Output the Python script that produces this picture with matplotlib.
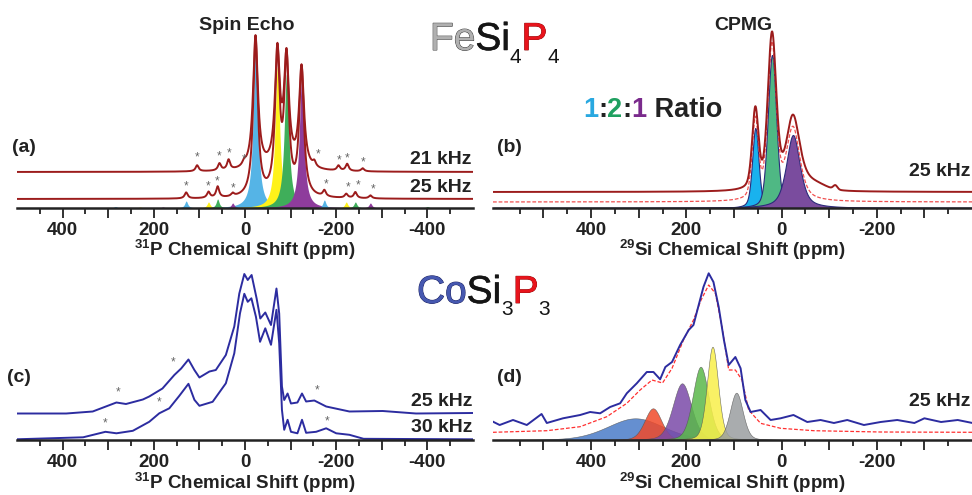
import numpy as np
import matplotlib
matplotlib.use('Agg')
import matplotlib.pyplot as plt
import matplotlib.patheffects as pe
from matplotlib.ticker import FixedLocator, FuncFormatter

plt.rcParams['font.family'] = ['Liberation Sans', 'DejaVu Sans']
plt.rcParams['mathtext.fontset'] = 'custom'
plt.rcParams['mathtext.rm'] = 'Liberation Sans'
plt.rcParams['mathtext.bf'] = 'Liberation Sans:bold'

# ---- (a) FeSi4P4 31P spin echo: site positions (ppm) and heights ----
a_sites = [-23, -71, -91, -124]
a_amp25 = [160, 141, 134, 128]
a_amp21 = [133, 114, 107, 101]
a_sb25_pos = [129, 80, 60, 27, -174, -222, -242, -275]
a_sb25_amp = [6, 6, 11, 3, 6, 4, 6, 3]
a_sb21_pos = [105, 56, 36, 2, -152, -205, -224, -258]
a_sb21_amp = [6, 7, 10, 4, 5, 5, 7, 3]
a_sbfill_amp = [7, 6, 9, 5, 8, 6, 6, 5]
a_sbfill_site = [0, 1, 2, 3, 0, 1, 2, 3]
a_far_pos = [284, 230, 180, -400]
a_far_amp = [1.5, 1.0, 1.0, 1.5]
a_far_site = [0, 1, 3, 2]
a_star21 = [(105, 51), (56, 52), (36, 55), (1, 49), (-160, 54), (-207, 48), (-224, 50), (-260, 46)]
a_star25 = [(129, 22), (82, 22), (62, 27), (27, 20), (-178, 24), (-227, 21), (-247, 23), (-280, 19)]

# ---- (b) FeSi4P4 29Si CPMG ----
b_pos = [55, 20, -24]
b_amp = [80, 153, 73]
b_hw = [8, 10.5, 17]
b_eta = [0.4, 0.3, 0.6]
b_extra_pos = [-65, -113]
b_extra_amp = [6, 4]
b_extra_hw = [30, 5]

# ---- (c) CoSi3P3 31P, traces ----
c_ppm25 = [502, 392, 334, 282, 261, 224, 210, 181, 155, 140, 124, 111, 100, 78, 64, 42, 23.5, 12.5,
           1.5, -6, -14.5, -25.5, -33.5, -44.5, -57, -69, -75, -81, -86, -93.4, -100.8, -115, -125,
           -134, -152, -178, -229, -302, -375, -499]
c_int25 = [0, 0, 2, 11, 9.5, 14, 17, 25, 38.5, 45, 54, 43.5, 36, 42, 43.5, 58.5, 87, 120,
           139.5, 133.5, 138.5, 115, 95, 101, 88.5, 125, 100, 27, 13.5, 20, 10, 11, 20,
           12, 13, 7, 2, 2.5, 0, 0.5]
c_ppm30 = [502, 355, 306, 282, 246, 210, 188, 166, 144, 124, 111, 100, 71, 42, 23.5, 11, 1.5, -6,
           -14, -24, -33, -44.5, -57, -69, -75, -81, -86, -93.4, -100.8, -115, -125, -134, -156,
           -178, -200, -229, -260, -500]
c_int30 = [0, 2, 7.5, 6, 8.5, 17.5, 26, 31, 43.5, 55.5, 39.5, 33.5, 37.5, 56, 86, 126, 145.5, 137.5,
           141, 122.5, 97.5, 111, 94.5, 129.5, 96, 29.5, 9.5, 19.5, 7.5, 6, 19.5, 6.5, 7.5,
           11, 6, 4.5, 0.5, 0]
c_star = [(279, 48), (157, 78), (-158, 50), (306, 17), (189, 38), (-180, 19)]

# ---- (d) CoSi3P3 29Si CPMG ----
d_pos = [307, 270, 209, 170, 145, 95]
d_amp = [21.7, 31.7, 56.7, 73.3, 93.3, 47.3]
d_hw = [70, 21, 23, 19.5, 14, 16]
d_ppm = [606, 592, 564, 535, 504, 493, 459, 423, 402, 381, 360, 339, 325, 304, 283, 269, 255, 244,
         230, 213, 195, 185, 174, 164, 153, 143, 132, 121, 111, 97, 86, 76, 65, 44, 23, 2, -25,
         -54, -82, -110, -138, -173, -208, -243, -279, -300, -335, -370, -401]
d_int = [18.3, 15, 20, 15, 26, 17, 21.7, 25, 28, 26.7, 33, 36.7, 46.7, 56.7, 68, 68, 60.7, 73,
         78, 95, 110, 115, 135, 153, 166.7, 158, 133, 100, 75, 83, 71.7, 40, 28, 30, 20, 21.7, 25,
         18, 20, 17, 20, 15, 18, 20, 17, 21.7, 18, 20, 17]
d_fit_ppm = [606, 493, 423, 367, 325, 297, 272, 250, 230, 206, 185, 169, 153, 139, 125, 111, 97,
             83, 69, 44, 2, -68, -208, -401]
d_fit_int = [7.7, 9.3, 13.3, 23.3, 36.7, 50, 60, 57, 71.7, 100, 120, 140, 155, 146.7, 113, 70, 70,
             60, 30, 16.7, 11.7, 9.3, 8, 7.7]


def pv(x, c, a, w, eta=1.0):
    u = ((x - c) / w) ** 2
    return a * (eta / (1 + u) + (1 - eta) * np.exp(-np.log(2) * u))


W, H = 972, 495
fig = plt.figure(figsize=(W / 100, H / 100), dpi=100)
renderer = fig.canvas.get_renderer()
INK = '#222222'


def px_axes(x0, x1, ybot, ytop):
    return fig.add_axes([x0 / W, 1 - ybot / H, (x1 - x0) / W, (ybot - ytop) / H])


def ftext(x, y, s, **kw):
    kw.setdefault('color', INK)
    return fig.text(x / W, 1 - y / H, s, **kw)


def style_axis(ax, lim, majors, minors):
    ax.set_xlim(*lim)
    ax.set_ylim(0, 180)
    for sp in ['top', 'left', 'right']:
        ax.spines[sp].set_visible(False)
    ax.spines['bottom'].set_linewidth(1.8)
    ax.spines['bottom'].set_color(INK)
    ax.set_yticks([])
    ax.patch.set_alpha(0)
    ax.xaxis.set_major_locator(FixedLocator(majors))
    ax.xaxis.set_minor_locator(FixedLocator(minors))
    ax.xaxis.set_major_formatter(FuncFormatter(lambda v, p: '%d' % v if abs(v) % 200 < 1e-6 else ''))
    ax.tick_params(axis='x', which='major', length=7, width=1.3, color=INK, pad=3,
                   labelsize=13.5, labelcolor=INK)
    ax.tick_params(axis='x', which='minor', length=4.5, width=1.3, color=INK)
    for lab in ax.get_xticklabels():
        lab.set_fontweight('bold')


def formula(x, yb, pieces, weight='normal'):
    for s, col, edge, lw, size, dy in pieces:
        t = fig.text(x / W, 1 - (yb + dy) / H, s, fontsize=size, color=col, ha='left',
                     va='baseline', fontweight=weight)
        if edge:
            t.set_path_effects([pe.Stroke(linewidth=lw, foreground=edge), pe.Normal()])
        x += t.get_window_extent(renderer).width


P_ticks = (list(range(400, -401, -100)), list(range(450, -451, -100)))
S_ticks = (list(range(500, -301, -100)), list(range(550, -351, -100)))

# ---------------- (a) ----------------
a_cols = ['#55b4e6', '#fff21a', '#3fae5a', '#8e3c9c']
red_tr = '#9c1c1c'
ax = px_axes(17, 473, 208, 28)
xa = np.linspace(500, -500, 5001)
for c, a, col in zip(a_sites, a_amp25, a_cols):
    ax.fill_between(xa, 0, pv(xa, c, a, 6), color=col, lw=0)
for c, a, s in zip(a_sb25_pos, a_sbfill_amp, a_sbfill_site):
    ax.fill_between(xa, 0, pv(xa, c, a, 4), color=a_cols[s], lw=0)
for c, a, s in zip(a_far_pos, a_far_amp, a_far_site):
    ax.fill_between(xa, 0, pv(xa, c, a, 4), color=a_cols[s], lw=0)
t25 = sum(pv(xa, c, a, 6) for c, a in zip(a_sites, a_amp25)) + \
    sum(pv(xa, c, a, 4) for c, a in zip(a_sb25_pos, a_sb25_amp))
t21 = sum(pv(xa, c, a, 6.5) for c, a in zip(a_sites, a_amp21)) + \
    sum(pv(xa, c, a, 4) for c, a in zip(a_sb21_pos, a_sb21_amp))
ax.plot(xa, t21 + 36, color=red_tr, lw=1.4)
ax.plot(xa, t25 + 9, color=red_tr, lw=1.4)
for p, y in a_star21 + a_star25:
    ax.text(p, y, '*', ha='center', va='center', fontsize=8.5, color='#666666')
style_axis(ax, (500, -500), *P_ticks)

# ---------------- (b) ----------------
b_cols = ['#19b2ee', '#4fb884', '#7a4c9e']
ax = px_axes(493, 972, 208, 28)
xb = np.linspace(606, -400, 4001)
comps = [pv(xb, c, a, w, e) for c, a, w, e in zip(b_pos, b_amp, b_hw, b_eta)]
for y, col in zip(comps, b_cols):
    ax.fill_between(xb, 0, y, facecolor=col, edgecolor='#2b2b7a', lw=0.8)
fit_b = sum(comps)
extra = sum(pv(xb, c, a, w, 0.0) for c, a, w in zip(b_extra_pos, b_extra_amp, b_extra_hw))
ax.plot(xb, fit_b + 6, color='#f05050', lw=0.9, ls=(0, (3, 1.5)))
ax.plot(xb, fit_b + extra + 16, color=red_tr, lw=1.4)
style_axis(ax, (606, -400), *S_ticks)

# ---------------- (c) ----------------
blue_tr = '#2c2ca0'
ax = px_axes(17, 473, 440, 260)
ax.plot(c_ppm25, np.array(c_int25) + 26.5, color=blue_tr, lw=1.4)
ax.plot(c_ppm30, np.array(c_int30) + 0.7, color=blue_tr, lw=1.4)
for p, y in c_star:
    ax.text(p, y, '*', ha='center', va='center', fontsize=8.5, color='#666666')
style_axis(ax, (500, -500), *P_ticks)

# ---------------- (d) ----------------
d_cols = ['#4a7cc8', '#f04a2a', '#7a4aa8', '#5ab84a', '#f8ef4a', '#9a9ea0']
ax = px_axes(493, 972, 440, 260)
xd = np.linspace(606, -400, 4001)
for c, a, w, col in zip(d_pos, d_amp, d_hw, d_cols):
    ax.fill_between(xd, 0, pv(xd, c, a, w, 0.25), facecolor=col, edgecolor='#555555',
                    lw=0.4, alpha=0.85)
ax.plot(d_fit_ppm, d_fit_int, color='#ff3030', lw=0.9, ls=(0, (3, 1.5)))
ax.plot(d_ppm, d_int, color=blue_tr, lw=1.4)
style_axis(ax, (606, -400), *S_ticks)

# ---------------- text ----------------
bold = dict(fontsize=14, fontweight='bold', va='center')
ftext(247, 25, 'Spin Echo', ha='center', **bold)
ftext(743, 25, 'CPMG', ha='center', **bold)
ftext(12, 147, '(a)', ha='left', **bold)
ftext(497, 147, '(b)', ha='left', **bold)
ftext(7, 378, '(c)', ha='left', **bold)
ftext(497, 378, '(d)', ha='left', **bold)
ftext(471, 159, '21 kHz', ha='right', **bold)
ftext(471, 188, '25 kHz', ha='right', **bold)
ftext(970, 172, '25 kHz', ha='right', **bold)
ftext(472, 402, '25 kHz', ha='right', **bold)
ftext(472, 428, '30 kHz', ha='right', **bold)
ftext(970, 402, '25 kHz', ha='right', **bold)
p_lab = r'$^{\mathbf{31}}$P Chemical Shift (ppm)'
s_lab = r'$^{\mathbf{29}}$Si Chemical Shift (ppm)'
lab = dict(fontsize=13.5, fontweight='bold', va='baseline', ha='center')
ftext(245, 256, p_lab, **lab)
ftext(732, 256, s_lab, **lab)
ftext(245, 489, p_lab, **lab)
ftext(732, 489, s_lab, **lab)

formula(430, 50, [('Fe', '#b0b0b0', '#3a3a3a', 0.7, 28, 0),
                  ('Si', '#151515', '#151515', 0.4, 28, 0),
                  ('4', '#151515', None, 0, 15, 13),
                  ('P', '#e8141c', '#8a0000', 0.6, 28, 0),
                  ('4', '#151515', None, 0, 15, 13)])
formula(417, 303, [('Co', '#4658b0', '#1a2060', 0.7, 28, 0),
                   ('Si', '#151515', '#151515', 0.4, 28, 0),
                   ('3', '#151515', None, 0, 15, 12),
                   ('P', '#e8141c', '#8a0000', 0.6, 28, 0),
                   ('3', '#151515', None, 0, 15, 12)])
formula(583, 117, [('1', '#29a8e0', None, 0, 19.5, 0),
                   (':', INK, None, 0, 19.5, 0),
                   ('2', '#1fa060', None, 0, 19.5, 0),
                   (':', INK, None, 0, 19.5, 0),
                   ('1', '#7a2a8c', None, 0, 19.5, 0),
                   (' Ratio', INK, None, 0, 19.5, 0)], weight='bold')

fig.savefig('out.png', dpi=100)
